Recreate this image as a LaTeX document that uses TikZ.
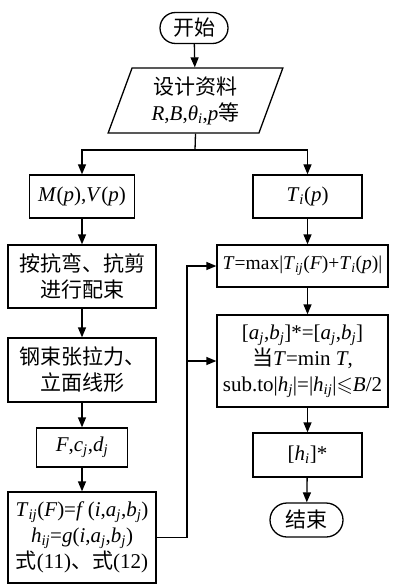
\documentclass[tikz,border=0pt]{standalone}
\usepackage{fontspec}
\usepackage{amssymb}
\setmainfont{Liberation Serif}
\newfontfamily\cjk{Noto Sans CJK SC}
\usetikzlibrary{arrows.meta,shapes.geometric,shapes.misc}
\newcommand\mi[1]{\textit{#1}}
\newcommand\sbs[1]{\textsubscript{\textit{#1}}}
\begin{document}
\begin{tikzpicture}[x=1pt,y=-1pt,
  box/.style={draw, line width=1.3pt, rectangle, inner sep=0pt, align=center, font=\rmfamily\fontsize{21}{26}\selectfont},
  term/.style={box, rounded rectangle},
  io/.style={box, trapezium, trapezium left angle=71, trapezium right angle=109, trapezium stretches=true},
  arr/.style={-{Triangle[length=10pt,width=8pt]}, line width=1.3pt},
  ln/.style={line width=1.3pt}]
\useasboundingbox (0,0) rectangle (398,585);

\node[term, minimum width=68pt, minimum height=31pt] (start) at (194,28) {\cjk 开始};
\node[io, minimum width=175pt, minimum height=65pt] (data) at (195.5,100.5) {{\cjk 设计资料}\\\mi{R},\mi{B},\mi{θ}\sbs{i},\mi{p}{\cjk 等}};

\node[box, minimum width=105pt, minimum height=43pt] (MV) at (82,196.5) {\mi{M}(\mi{p}),\mi{V}(\mi{p})};
\node[box, minimum width=148pt, minimum height=63pt] (pei) at (82,276.5) {\cjk 按抗弯、抗剪\\\cjk 进行配束};
\node[box, minimum width=148pt, minimum height=64pt] (gang) at (82,370) {\cjk 钢束张拉力、\\\cjk 立面线形};
\node[box, minimum width=91pt, minimum height=39pt] (Fcd) at (82,447.5) {\mi{F},\mi{c}\sbs{j},\mi{d}\sbs{j}};
\node[box, minimum width=148pt, minimum height=91pt] (Tij) at (82,537.5) {\mi{T}\sbs{ij}(\mi{F})=\mi{f}\,(\mi{i},\mi{a}\sbs{j},\mi{b}\sbs{j})\\\mi{h}\sbs{ij}=\mi{g}(\mi{i},\mi{a}\sbs{j},\mi{b}\sbs{j})\\{\cjk 式}(11){\cjk 、式}(12)};

\node[box, minimum width=109pt, minimum height=43pt] (Ti) at (307.5,196.5) {\mi{T}\sbs{i}(\mi{p})};
\node[box, minimum width=171pt, minimum height=42pt, font=\rmfamily\fontsize{19.5}{24}\selectfont] (Tmax) at (302.5,266) {\mi{T}=max|\mi{T}\sbs{ij}(\mi{F})+\mi{T}\sbs{i}(\mi{p})|};
\node[box, minimum width=171pt, minimum height=92pt] (ab) at (302.5,361) {[\mi{a}\sbs{j},\mi{b}\sbs{j}]*=[\mi{a}\sbs{j},\mi{b}\sbs{j}]\\{\cjk 当}\mi{T}=min \mi{T},\\sub.to|\mi{h}\sbs{j}|=|\mi{h}\sbs{ij}|$\leqslant$\mi{B}/2};
\node[box, minimum width=109pt, minimum height=44pt] (hi) at (307.5,455) {[\mi{h}\sbs{i}]*};
\node[term, minimum width=73pt, minimum height=34pt] (end) at (306.5,520) {\cjk 结束};

\coordinate (split) at (195,150);
\coordinate (lx) at (187,362);

\draw[arr] (start) -- (data);
\draw[ln] (data.south) -- (split);
\draw[arr] (split) -| (MV.north);
\draw[arr] (split) -| (Ti.north);
\draw[arr] (MV) -- (pei);
\draw[arr] (pei) -- (gang);
\draw[arr] (gang) -- (Fcd);
\draw[arr] (Fcd) -- (Tij);
\draw[arr] (Tij.east) -| (lx |- Tmax.west) -- (Tmax.west);
\draw[arr] (lx |- ab.west) -- (ab.west);
\draw[arr] (Ti.south) -- (Ti.south |- Tmax.north);
\draw[arr] (Ti.south |- Tmax.south) -- (Ti.south |- ab.north);
\draw[arr] (Ti.south |- ab.south) -- (hi.north);
\draw[arr] (hi) -- (end);
\end{tikzpicture}
\end{document}
